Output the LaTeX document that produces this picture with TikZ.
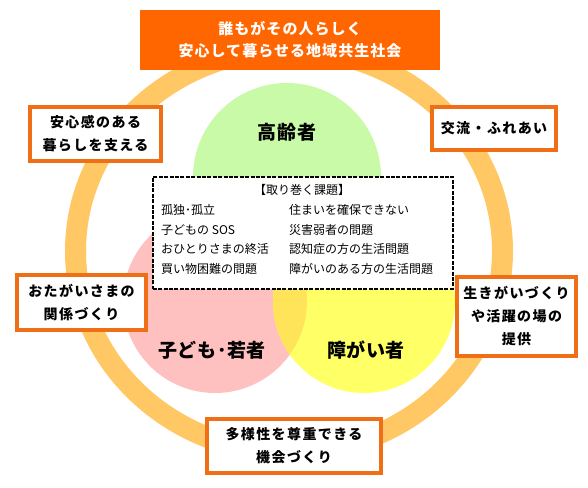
\documentclass[tikz,border=0pt]{standalone}
\usepackage{fontspec}
\setmainfont{Noto Sans CJK JP}
\newfontfamily\jpbox[LetterSpace=10]{Noto Sans CJK JP}
\newfontfamily\jptitle[LetterSpace=7]{Noto Sans CJK JP}
\newfontfamily\jplab[LetterSpace=3]{Noto Sans CJK JP}
\definecolor{ringc}{RGB}{255,200,100}
\definecolor{greenc}{RGB}{200,250,168}
\definecolor{pinkc}{RGB}{255,192,192}
\definecolor{yellowc}{RGB}{255,255,102}
\definecolor{overc}{RGB}{255,228,90}
\definecolor{boxorange}{RGB}{240,110,22}
\definecolor{titleorange}{RGB}{255,102,0}
\tikzset{
  sidebox/.style={draw=boxorange, line width=3.5pt, fill=white, inner sep=0pt,
    align=center, font=\jpbox\bfseries\fontsize{14}{23}\selectfont},
  titlebox/.style={fill=titleorange, inner sep=0pt, align=center, text=white,
    font=\jptitle\bfseries\fontsize{15}{22}\selectfont},
  circlabel/.style={font=\jplab\bfseries\fontsize{19}{22}\selectfont},
  issuebox/.style={draw=black, fill=white, line width=1.7pt, dash pattern=on 4pt off 1.4pt},
  issue/.style={anchor=west, inner sep=0pt, font=\fontsize{12}{14}\selectfont},
}
\begin{document}
\begin{tikzpicture}[x=1pt,y=-1pt]
\useasboundingbox (0,0) rectangle (588,487);
\fill[white] (0,0) rectangle (588,487);
% ring
\fill[ringc, even odd rule] (289,251) ellipse [x radius=224pt, y radius=212pt]
  (289,251) ellipse [x radius=203pt, y radius=191pt];
% circles
\fill[greenc] (287,177) circle (94pt);
\fill[pinkc] (215,301) circle (92pt);
\fill[yellowc] (364,302) circle (91pt);
\begin{scope}
  \clip (215,301) circle (92pt);
  \fill[overc] (364,302) circle (91pt);
\end{scope}
\node[circlabel] (old) at (287,132) {高齢者};
\node[circlabel] (child) at (212,350) {子ども･若者};
\node[circlabel] (dis) at (366,350) {障がい者};
% issues box
\node[issuebox, minimum width=300pt, minimum height=112pt, anchor=north west] (issues) at (152,176) {};
\node[inner sep=0pt, font=\fontsize{12}{14}\selectfont] (ititle) at (302,190) {【取り巻く課題】};
\node[issue] (l1) at (161,210) {孤独･孤立};
\node[issue] (l2) at (161,230) {子どもの SOS};
\node[issue] (l3) at (161,249) {おひとりさまの終活};
\node[issue] (l4) at (161,269) {買い物困難の問題};
\node[issue] (r1) at (289,210) {住まいを確保できない};
\node[issue] (r2) at (289,230) {災害弱者の問題};
\node[issue] (r3) at (289,249) {認知症の方の生活問題};
\node[issue] (r4) at (289,269) {障がいのある方の生活問題};
% title
\node[titlebox, minimum width=300pt, minimum height=60pt] (title) at (290,40) {誰もがその人らしく\\安心して暮らせる地域共生社会};
% side boxes
\node[sidebox, minimum width=131pt, minimum height=54pt] (b1) at (95.5,134) {安心感のある\\暮らしを支える};
\node[sidebox, minimum width=124pt, minimum height=43pt] (b2) at (494,128.5) {交流・ふれあい};
\node[sidebox, minimum width=129pt, minimum height=55pt] (b3) at (81.5,302.5) {おたがいさまの\\関係づくり};
\node[sidebox, minimum width=119pt, minimum height=79pt] (b4) at (516.5,316.5) {生きがいづくり\\や活躍の場の\\提供};
\node[sidebox, minimum width=174pt, minimum height=54pt] (b5) at (294,446) {多様性を尊重できる\\機会づくり};
\end{tikzpicture}
\end{document}
